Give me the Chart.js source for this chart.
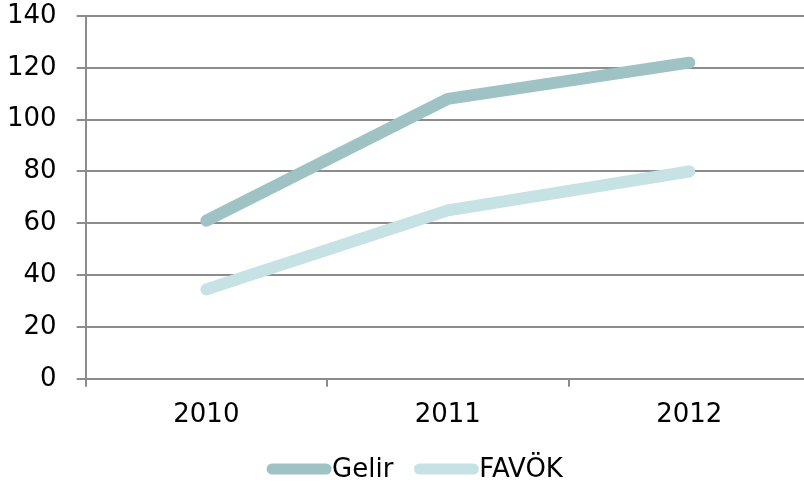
<!DOCTYPE html>
<html lang="tr">
<head>
    <meta charset="UTF-8">
    <title>Gelir ve FAVÖK</title>
    <style>
        body {
            margin: 0;
            padding: 0;
            background-color: #ffffff;
            overflow: hidden;
        }

        /* wider than the window: the last category runs past the right edge */
        .chart-container {
            width: 825px;
            height: 484px;
        }
    </style>
</head>
<body>
    <div class="chart-container">
        <canvas id="lineChart"></canvas>
    </div>

    <script src="https://cdn.jsdelivr.net/npm/chart.js"></script>
    <script>
        const years = ['2010', '2011', '2012'];
        const gelirValues = [61, 108, 122];
        const favokValues = [34.5, 65, 80];
        const yTicks = [0, 20, 40, 60, 80, 100, 120, 140];

        const gridColor = '#8c8c8c';
        const fontFamily = '"DejaVu Sans", Verdana, sans-serif';

        Chart.defaults.font.family = fontFamily;
        Chart.defaults.font.size = 26;
        Chart.defaults.color = '#000000';

        // legend drawn by hand: line symbol with round ends, text right after it
        const lineLegend = {
            id: 'lineLegend',
            afterDraw(chart) {
                const c = chart.ctx;
                const symbolW = 54;
                const itemGap = 26;
                const y = 469;
                c.save();
                c.font = '26px ' + fontFamily;
                c.textBaseline = 'middle';
                const items = chart.data.datasets.map(ds => ({
                    text: ds.label,
                    color: ds.borderColor,
                    w: symbolW + 6 + c.measureText(ds.label).width
                }));
                let total = items.reduce((s, it) => s + it.w, 0) + itemGap * (items.length - 1);
                let x = chart.width / 2 - total / 2 + 5;
                items.forEach(it => {
                    c.strokeStyle = it.color;
                    c.lineWidth = 11;
                    c.lineCap = 'round';
                    c.beginPath();
                    c.moveTo(x, y);
                    c.lineTo(x + symbolW, y);
                    c.stroke();
                    c.fillStyle = '#000000';
                    c.fillText(it.text, x + symbolW + 6, y + 1);
                    x += it.w + itemGap;
                });
                c.restore();
            }
        };

        const ctx = document.getElementById('lineChart').getContext('2d');
        const lineChart = new Chart(ctx, {
            type: 'line',
            data: {
                labels: years,
                datasets: [{
                    label: 'Gelir',
                    data: gelirValues,
                    borderColor: '#9fc2c4',
                    backgroundColor: '#9fc2c4',
                    borderWidth: 12,
                    borderCapStyle: 'round',
                    borderJoinStyle: 'round',
                    pointRadius: 0,
                    tension: 0
                }, {
                    label: 'FAVÖK',
                    data: favokValues,
                    borderColor: '#c6e2e4',
                    backgroundColor: '#c6e2e4',
                    borderWidth: 12,
                    borderCapStyle: 'round',
                    borderJoinStyle: 'round',
                    pointRadius: 0,
                    tension: 0
                }]
            },
            options: {
                responsive: true,
                maintainAspectRatio: false,
                animation: false,
                layout: {
                    autoPadding: false,
                    padding: { top: 16, left: -13, right: 15, bottom: 40 }
                },
                plugins: {
                    tooltip: { enabled: false },
                    legend: { display: false }
                },
                scales: {
                    x: {
                        offset: true,
                        grid: {
                            offset: true,
                            drawOnChartArea: false,
                            drawTicks: true,
                            tickLength: 8,
                            color: gridColor,
                            lineWidth: 2
                        },
                        border: { color: gridColor, width: 2 },
                        ticks: { padding: 13 }
                    },
                    y: {
                        min: 0,
                        max: 140,
                        afterBuildTicks: (axis) => {
                            axis.ticks = yTicks.map(v => ({ value: v }));
                        },
                        // the tick padding otherwise pushes the plot top down
                        afterFit: (axis) => {
                            axis.paddingTop = 0;
                            axis.paddingBottom = 0;
                        },
                        grid: {
                            color: gridColor,
                            lineWidth: 2,
                            tickLength: 9
                        },
                        border: { color: gridColor, width: 2 },
                        ticks: { padding: 20 }
                    }
                }
            },
            plugins: [lineLegend]
        });
    </script>
</body>
</html>
